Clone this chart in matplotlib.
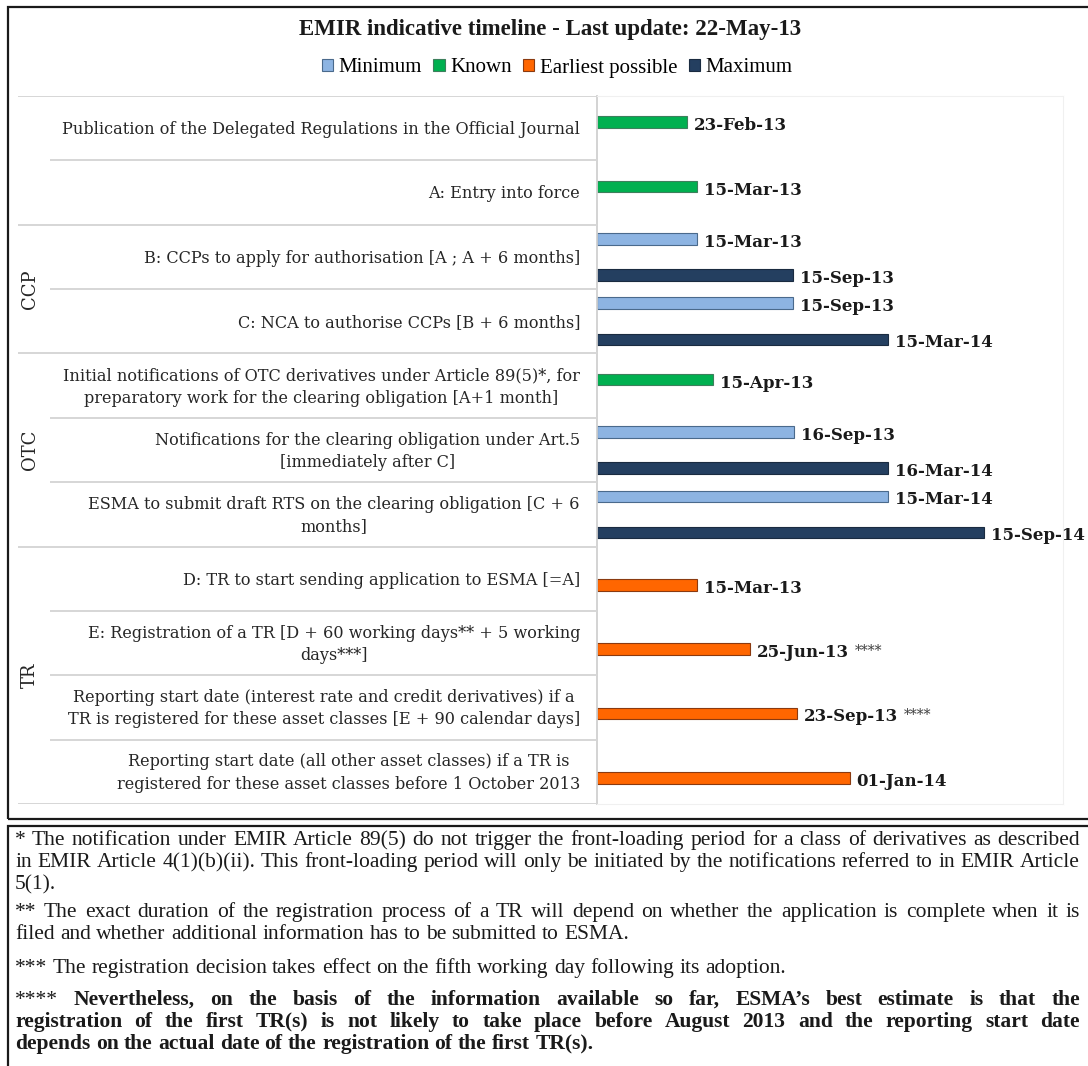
import numpy as np
import pandas as pd
import matplotlib
matplotlib.use("Agg")
import matplotlib.pyplot as plt
import matplotlib.dates as mdates
from matplotlib.patches import Patch, Rectangle

W, H = 1088, 1066

# ---- data ----
tasks = [
    "Publication of the Delegated Regulations in the Official Journal",
    "A: Entry into force",
    "B: CCPs to apply for authorisation [A ; A + 6 months]",
    "C: NCA to authorise CCPs [B + 6 months]",
    "Initial notifications of OTC derivatives under Article 89(5)*, for\npreparatory work for the clearing obligation [A+1 month]",
    "Notifications for the clearing obligation under Art.5\n[immediately after C]",
    "ESMA to submit draft RTS on the clearing obligation [C + 6\nmonths]",
    "D: TR to start sending application to ESMA [=A]",
    "E: Registration of a TR [D + 60 working days** + 5 working\ndays***]",
    "Reporting start date (interest rate and credit derivatives) if a\nTR is registered for these asset classes [E + 90 calendar days]",
    "Reporting start date (all other asset classes) if a TR is\nregistered for these asset classes before 1 October 2013",
]
group_names = ["CCP", "OTC", "TR"]
group_rows = [(2, 3), (4, 6), (7, 10)]

minimum = [None, None, "2013-03-15", "2013-09-15", None, "2013-09-16", "2014-03-15", None, None, None, None]
known = ["2013-02-23", "2013-03-15", None, None, "2013-04-15", None, None, None, None, None, None]
earliest = [None, None, None, None, None, None, None, "2013-03-15", "2013-06-25", "2013-09-23", "2014-01-01"]
maximum = [None, None, "2013-09-15", "2014-03-15", None, "2014-03-16", "2014-09-15", None, None, None, None]
notes = ["", "", "", "", "", "", "", "", "****", "****", ""]

series_names = ["Minimum", "Known", "Earliest possible", "Maximum"]
series_data = [minimum, known, earliest, maximum]
face_colors = ["#8db4e2", "#00b050", "#ff6600", "#243f60"]
edge_colors = ["#4a6a8c", "#3d7f5c", "#8a3a10", "#1a2b40"]

axis_start = pd.Timestamp("2012-09-04")
axis_end = pd.Timestamp("2015-02-14")

footnotes = [
    [("* The notification under EMIR Article 89(5) do not trigger the front-loading period for a class of derivatives as described", "normal", True),
     ("in EMIR Article 4(1)(b)(ii). This front-loading period will only be initiated by the notifications referred to in EMIR Article", "normal", True),
     ("5(1).", "normal", False)],
    [("** The exact duration of the registration process  of a TR will depend on whether the application is complete when it is", "normal", True),
     ("filed and whether additional information has to be submitted to ESMA.", "normal", False)],
    [("*** The registration decision takes effect on the fifth working day  following its adoption.", "normal", False)],
    [("**** Nevertheless, on the basis of the information available so far, ESMA\u2019s best estimate is that the", "bold", True),
     ("registration of the first TR(s) is not likely to take place before August 2013 and the reporting start date", "bold", True),
     ("depends on the actual date of the registration of the first TR(s).", "bold", False)],
]
footnote_y = [[840, 862, 884], [912, 934], [968], [1000, 1022, 1044]]

serif = "DejaVu Serif"
narrow = "Liberation Serif"

fig = plt.figure(figsize=(W / 100, H / 100), dpi=100)
fig.patch.set_facecolor("white")

def fx(px):
    return px / W

def fy(py):
    return 1 - py / H

top, bottom = 96, 804
ax = fig.add_axes([fx(597), fy(bottom), fx(1063) - fx(597), fy(top) - fy(bottom)])
axl = fig.add_axes([fx(8), fy(bottom), fx(597) - fx(8), fy(top) - fy(bottom)])

n = len(tasks)
rows = np.arange(n)
offsets = [-0.28, -0.093, 0.093, 0.28]
x0 = mdates.date2num(axis_start)

for name, vals, fc, ec, off in zip(series_names, series_data, face_colors, edge_colors, offsets):
    idx = [i for i, v in enumerate(vals) if v is not None]
    if not idx:
        continue
    dates = pd.to_datetime([vals[i] for i in idx])
    nums = mdates.date2num(dates.to_pydatetime())
    ys = rows[idx] + off
    ax.barh(ys, nums - x0, left=x0, height=0.18, color=fc, edgecolor=ec, linewidth=0.8)
    for i, y, num, d in zip(idx, ys, nums, dates):
        t = ax.annotate(d.strftime("%d-%b-%y"), xy=(num, y), xytext=(5, -2.5),
                        textcoords="offset points", ha="left", va="center",
                        fontsize=12, fontweight="bold", family=serif, color="#1a1a1a",
                        annotation_clip=False)
        if notes[i]:
            ax.annotate(notes[i], xy=(1, 1), xycoords=t, xytext=(4, 0),
                        textcoords="offset points", ha="left", va="top",
                        fontsize=10, family=serif, color="#404040")

ax.set_xlim(x0, mdates.date2num(axis_end))
ax.set_ylim(n - 0.5, -0.5)
ax.set_xticks([])
ax.set_yticks([])
for s in ["top", "right", "bottom"]:
    ax.spines[s].set_color("#f0f0f0")
ax.spines["left"].set_color("#d0d0d0")
ax.spines["left"].set_linewidth(1.3)

# left label panel
axl.set_xlim(8, 597)
axl.set_ylim(n - 0.5, -0.5)
axl.axis("off")
group_edges = [-0.5] + [g[0] - 0.5 for g in group_rows] + [n - 0.5]
for b in np.arange(-0.5, n, 1.0):
    xs = 18 if b in group_edges else 50
    axl.plot([xs, 597], [b, b], color="#d6d6d6", lw=1.4, solid_capstyle="butt")

for i, txt in enumerate(tasks):
    axl.text(580, i + 0.02, txt, ha="right", va="center", multialignment="center",
             fontsize=11.6, family=serif, color="#262626", linespacing=1.42)

for g, (r0, r1) in zip(group_names, group_rows):
    axl.text(30, (r0 + r1) / 2, g, rotation=90, ha="center", va="center",
             fontsize=13, family=serif, color="#262626")

# title and legend
fig.text(fx(550), fy(30), "EMIR indicative timeline - Last update: 22-May-13",
         ha="center", va="center", fontsize=16.5, fontweight="bold", family=narrow, color="#1a1a1a")
handles = [Patch(facecolor=fc, edgecolor=ec, lw=0.8) for fc, ec in zip(face_colors, edge_colors)]
fig.legend(handles, series_names, loc="center", bbox_to_anchor=(fx(557), fy(68)), ncol=4,
           frameon=False, prop={"family": narrow, "size": 15}, handlelength=0.55,
           handleheight=0.55, handletextpad=0.25, columnspacing=0.55)

# frames
fig.add_artist(Rectangle((fx(8), fy(819)), fx(1100) - fx(8), fy(7) - fy(819),
                         transform=fig.transFigure, fill=False, lw=1.6, ec="#1a1a1a"))
fig.add_artist(Rectangle((fx(8), fy(1080)), fx(1100) - fx(8), fy(826) - fy(1080),
                         transform=fig.transFigure, fill=False, lw=1.6, ec="#1a1a1a"))

# footnotes, justified like the original text box
renderer = fig.canvas.get_renderer()
left_px, right_px = 15, 1080
fsize = {"normal": 15.5, "bold": 15.5}
for para, ys in zip(footnotes, footnote_y):
    for (line, weight, justify), y in zip(para, ys):
        words = line.split()
        texts = []
        for w in words:
            wt = "normal" if set(w) == {"*"} else weight
            texts.append(fig.text(0, fy(y + 5), w, ha="left", va="baseline", fontsize=fsize[weight],
                                  fontweight=wt, family=narrow, color="#1a1a1a"))
        widths = [t.get_window_extent(renderer).width for t in texts]
        if justify and len(words) > 1:
            gap = (right_px - left_px - sum(widths)) / (len(words) - 1)
        else:
            gap = 0.25 * fsize[weight] * 100 / 72
        x = left_px
        for t, w in zip(texts, widths):
            t.set_x(fx(x))
            x += w + gap

fig.savefig("out.png", dpi=100)
